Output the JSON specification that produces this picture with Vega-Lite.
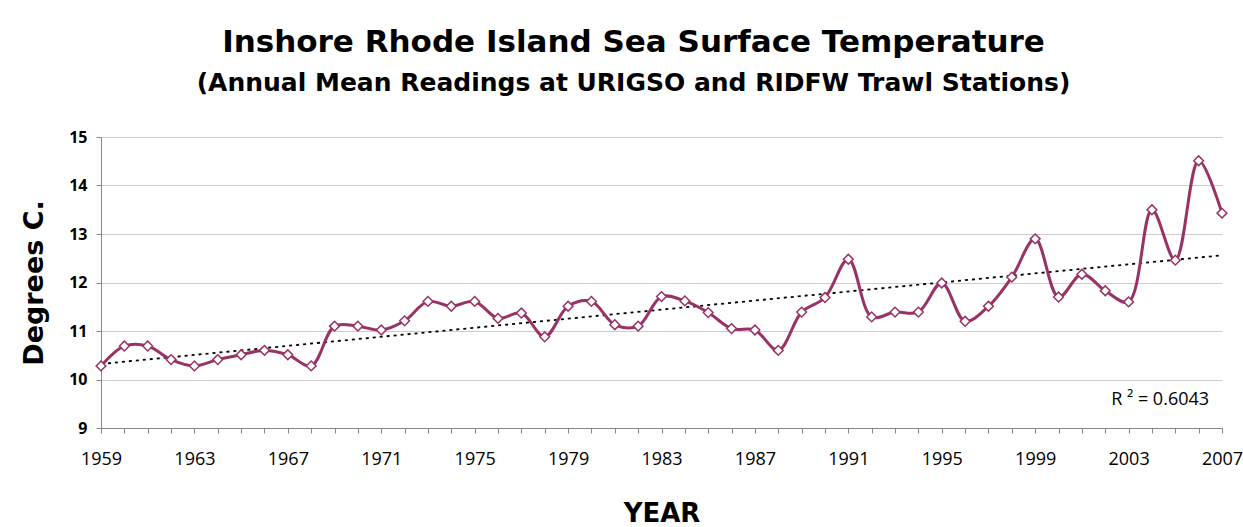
{
  "$schema": "https://vega.github.io/schema/vega-lite/v6.json",
  "width": 1121,
  "height": 291,
  "autosize": {"type": "none"},
  "padding": {"left": 101, "top": 137, "right": 21, "bottom": 99},
  "background": "white",
  "title": {
    "text": "Inshore Rhode Island Sea Surface Temperature",
    "subtitle": "(Annual Mean Readings at URIGSO and RIDFW Trawl Stations)",
    "anchor": "middle",
    "frame": "group",
    "dx": -28,
    "offset": 32,
    "font": "DejaVu Sans",
    "fontSize": 31,
    "fontWeight": "bold",
    "color": "black",
    "subtitleFont": "DejaVu Sans",
    "subtitleFontSize": 25,
    "subtitleFontWeight": "bold",
    "subtitleColor": "black",
    "subtitlePadding": 12
  },
  "config": {
    "view": {"stroke": null},
    "axis": {"domainColor": "#888888", "tickColor": "#888888", "gridColor": "#cccccc"}
  },
  "data": {
    "values": [
      {"year": 1959, "temp": 10.28}, {"year": 1960, "temp": 10.69}, {"year": 1961, "temp": 10.69},
      {"year": 1962, "temp": 10.41}, {"year": 1963, "temp": 10.28}, {"year": 1964, "temp": 10.41},
      {"year": 1965, "temp": 10.51}, {"year": 1966, "temp": 10.6}, {"year": 1967, "temp": 10.51},
      {"year": 1968, "temp": 10.28}, {"year": 1969, "temp": 11.1}, {"year": 1970, "temp": 11.1},
      {"year": 1971, "temp": 11.02}, {"year": 1972, "temp": 11.21}, {"year": 1973, "temp": 11.61},
      {"year": 1974, "temp": 11.51}, {"year": 1975, "temp": 11.61}, {"year": 1976, "temp": 11.26},
      {"year": 1977, "temp": 11.37}, {"year": 1978, "temp": 10.88}, {"year": 1979, "temp": 11.51},
      {"year": 1980, "temp": 11.61}, {"year": 1981, "temp": 11.13}, {"year": 1982, "temp": 11.1},
      {"year": 1983, "temp": 11.71}, {"year": 1984, "temp": 11.62}, {"year": 1985, "temp": 11.38},
      {"year": 1986, "temp": 11.05}, {"year": 1987, "temp": 11.02}, {"year": 1988, "temp": 10.6},
      {"year": 1989, "temp": 11.39}, {"year": 1990, "temp": 11.69}, {"year": 1991, "temp": 12.48},
      {"year": 1992, "temp": 11.29}, {"year": 1993, "temp": 11.39}, {"year": 1994, "temp": 11.39},
      {"year": 1995, "temp": 11.99}, {"year": 1996, "temp": 11.2}, {"year": 1997, "temp": 11.51},
      {"year": 1998, "temp": 12.11}, {"year": 1999, "temp": 12.9}, {"year": 2000, "temp": 11.7},
      {"year": 2001, "temp": 12.17}, {"year": 2002, "temp": 11.83}, {"year": 2003, "temp": 11.6},
      {"year": 2004, "temp": 13.5}, {"year": 2005, "temp": 12.46}, {"year": 2006, "temp": 14.51},
      {"year": 2007, "temp": 13.43}
    ]
  },
  "encoding": {
    "x": {
      "field": "year",
      "type": "quantitative",
      "scale": {"domain": [1959, 2007], "nice": false, "zero": false},
      "axis": {
        "title": "YEAR",
        "titleFont": "DejaVu Sans",
        "titleFontSize": 26,
        "titleFontWeight": "bold",
        "titleColor": "black",
        "titlePadding": 32,
        "values": [1959,1960,1961,1962,1963,1964,1965,1966,1967,1968,1969,1970,1971,1972,1973,1974,1975,1976,1977,1978,1979,1980,1981,1982,1983,1984,1985,1986,1987,1988,1989,1990,1991,1992,1993,1994,1995,1996,1997,1998,1999,2000,2001,2002,2003,2004,2005,2006,2007],
        "format": "d",
        "labelExpr": "(datum.value - 1959) % 4 == 0 ? datum.label : ''",
        "labelFont": "Open Sans",
        "labelFontSize": 18,
        "labelColor": "black",
        "labelPadding": 17,
        "labelFlush": false,
        "labelOverlap": false,
        "tickSize": 5,
        "grid": false
      }
    },
    "y": {
      "field": "temp",
      "type": "quantitative",
      "scale": {"domain": [9, 15], "nice": false, "zero": false},
      "axis": {
        "title": "Degrees  C.",
        "titleFont": "DejaVu Sans",
        "titleFontSize": 27,
        "titleFontWeight": "bold",
        "titleColor": "black",
        "titlePadding": 20,
        "values": [9, 10, 11, 12, 13, 14, 15],
        "labelFont": "Open Sans",
        "labelFontSize": 16,
        "labelFontWeight": "bold",
        "labelColor": "black",
        "labelPadding": 9,
        "tickSize": 5,
        "grid": true
      }
    }
  },
  "layer": [
    {
      "transform": [{"regression": "temp", "on": "year", "extent": [1959, 2007]}],
      "mark": {"type": "line", "color": "black", "strokeWidth": 1.8, "strokeDash": [3, 4]}
    },
    {
      "mark": {"type": "line", "color": "#993366", "strokeWidth": 3, "interpolate": "catmull-rom"}
    },
    {
      "mark": {"type": "point", "shape": "diamond", "filled": true, "fill": "white", "stroke": "#993366", "strokeWidth": 1.5, "size": 95, "opacity": 1}
    },
    {
      "data": {"values": [{"year": 2004.35, "temp": 9.58, "label": "R ² =  0.6043"}]},
      "mark": {"type": "text", "font": "Open Sans", "fontSize": 18, "color": "black"},
      "encoding": {"text": {"field": "label"}}
    }
  ]
}
